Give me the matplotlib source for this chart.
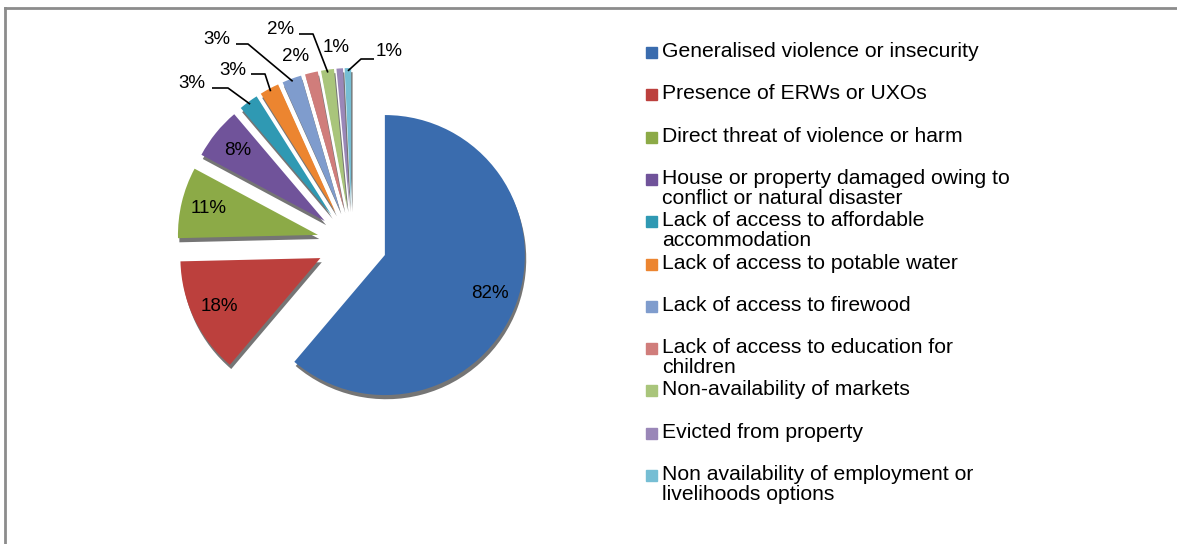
import matplotlib.pyplot as plt
import matplotlib.patheffects as pe
import numpy as np

plt.rcParams['font.family'] = ['Liberation Sans', 'DejaVu Sans']

categories = [
    "Generalised violence or insecurity",
    "Presence of ERWs or UXOs",
    "Direct threat of violence or harm",
    "House or property damaged owing to\nconflict or natural disaster",
    "Lack of access to affordable\naccommodation",
    "Lack of access to potable water",
    "Lack of access to firewood",
    "Lack of access to education for\nchildren",
    "Non-availability of markets",
    "Evicted from property",
    "Non availability of employment or\nlivelihoods options",
]
values = [82, 18, 11, 8, 3, 3, 3, 2, 2, 1, 1]
colors = ["#3A6CAE", "#BC403D", "#8CAA47", "#70539A", "#2F99B3", "#EC8530",
          "#7F9CCD", "#D07D7B", "#A9C57B", "#9A87B8", "#76BED4"]

W, H = 1177, 544
CX, CY, R = 352, 243, 140  # pie centre / radius in pixels


def px(x, y):
    # pixel position (from top-left) -> data coords of the pie axes
    return (x - CX) / R, (CY - y) / R


fig = plt.figure(figsize=(W / 100, H / 100), dpi=100)
ax = fig.add_axes([0, 0, 1, 1])

explode = [0.25] * len(values)
wedges, _ = ax.pie(values, colors=colors, explode=explode, startangle=90,
                   counterclock=False, radius=1, center=(0, 0), frame=True,
                   wedgeprops=dict(linewidth=0))
ax.set_xlim(-CX / R, (W - CX) / R)
ax.set_ylim(-(H - CY) / R, CY / R)
ax.set_aspect('equal')
ax.axis('off')

for w in wedges:
    w.set_path_effects([pe.SimplePatchShadow(offset=(1, -3), alpha=0.6, shadow_rgbFace='#1a1a1a'),
                        pe.Normal()])

# small-slice label positions (pixels) and leader line start / elbow
small_pos = {
    4: (192, 84), 5: (233, 71), 6: (217, 40), 7: (296, 57),
    8: (281, 30), 9: (336, 48), 10: (389, 52),
}
leaders = {
    4: ((212, 88), (228, 88)),
    5: ((251, 74), (265, 74)),
    6: ((236, 44), (248, 44)),
    8: ((299, 34), (313, 34)),
    10: ((374, 59), (361, 59)),
}

for i, (w, v) in enumerate(zip(wedges, values)):
    ang = np.deg2rad((w.theta1 + w.theta2) / 2)
    cx, cy = w.center
    if i in small_pos:
        tx, ty = px(*small_pos[i])
        ax.text(tx, ty, f"{v}%", ha='center', va='center', fontsize=13.5)
        if i in leaders:
            (sx, sy), (ex, ey) = leaders[i]
            x0, y0 = px(sx, sy)
            x1, y1 = px(ex, ey)
            x2 = cx + 0.98 * np.cos(ang)
            y2 = cy + 0.98 * np.sin(ang)
            ax.plot([x0, x1, x2], [y0, y1, y2], color='black', lw=1.2,
                    solid_capstyle='butt')
    else:
        ax.text(cx + 0.8 * np.cos(ang), cy + 0.8 * np.sin(ang), f"{v}%",
                ha='center', va='center', fontsize=13.5)

# legend drawn manually to keep Excel's fixed row spacing
y0, step = 53, 42.3
for i, (c, lab) in enumerate(zip(colors, categories)):
    y = y0 + i * step
    fig.patches.append(plt.Rectangle((646 / W, 1 - (y + 5) / H), 11 / W, 11 / H,
                                     transform=fig.transFigure, color=c))
    fig.text(662 / W, 1 - (y - 11) / H, lab, fontsize=15.2, ha='left', va='top',
             linespacing=1.08)

# chart border (top and left visible)
fig.add_artist(plt.Line2D([5 / W, 1], [1 - 8 / H, 1 - 8 / H], color='#8c8c8c', lw=2,
                          transform=fig.transFigure))
fig.add_artist(plt.Line2D([5 / W, 5 / W], [0, 1 - 8 / H], color='#8c8c8c', lw=2,
                          transform=fig.transFigure))

fig.savefig("out.png", dpi=100)
